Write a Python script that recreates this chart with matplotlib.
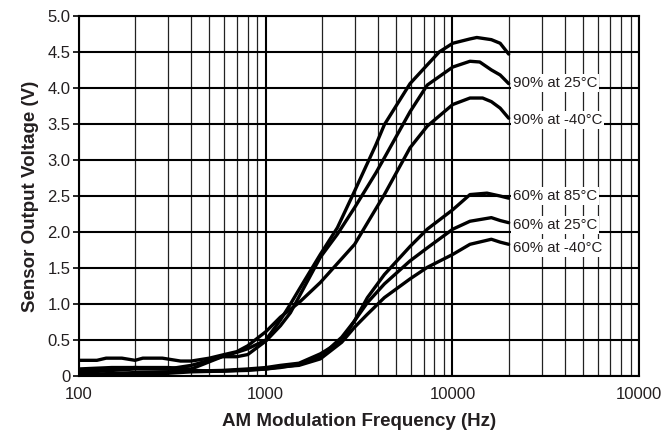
import numpy as np
import matplotlib.pyplot as plt
from matplotlib.ticker import FixedLocator, NullFormatter

plt.rcParams['font.family'] = ['Liberation Sans', 'DejaVu Sans']

# 90% at 85C (top curve, unlabeled in the source)
f_a = [100, 150, 200, 300, 400, 500, 600, 700, 800, 1000, 1200, 1357, 1508, 1962, 2421,
       2995, 3890, 4320, 5930, 7330, 8500, 10040, 12410, 13500, 16150, 18000, 20000]
v_a = [0.06, 0.10, 0.12, 0.10, 0.15, 0.22, 0.28, 0.33, 0.38, 0.50, 0.78, 1.00, 1.20, 1.69, 2.06,
       2.57, 3.21, 3.49, 4.06, 4.32, 4.50, 4.62, 4.68, 4.70, 4.67, 4.62, 4.47]

# 90% at 25C
f_b = [100, 150, 200, 300, 400, 500, 585, 700, 802, 1005, 1200, 1357, 1508, 1962, 2421,
       2995, 3890, 4320, 5930, 7330, 10040, 12410, 14000, 16150, 18000, 20000]
v_b = [0.10, 0.12, 0.12, 0.12, 0.10, 0.20, 0.27, 0.27, 0.30, 0.49, 0.70, 0.88, 1.10, 1.65, 1.97,
       2.34, 2.82, 3.03, 3.67, 4.04, 4.29, 4.37, 4.36, 4.25, 4.18, 4.06]

# 90% at -40C
f_c = [100, 125, 140, 170, 200, 220, 280, 350, 400, 500, 600, 700, 800, 1005, 1200, 1508,
       1962, 2995, 4320, 5930, 7330, 10040, 12410, 14500, 16150, 18000, 20000]
v_c = [0.22, 0.22, 0.25, 0.25, 0.22, 0.25, 0.25, 0.21, 0.21, 0.25, 0.30, 0.34, 0.42, 0.62, 0.82, 1.02,
       1.30, 1.83, 2.52, 3.17, 3.47, 3.77, 3.86, 3.86, 3.81, 3.72, 3.58]

# 60% at 85C
f_d = [100, 200, 300, 400, 585, 800, 1005, 1200, 1508, 1962, 2553, 2995, 3505, 4320, 5930,
       7330, 10040, 12410, 15310, 18000, 20000]
v_d = [0.02, 0.05, 0.06, 0.07, 0.08, 0.10, 0.12, 0.15, 0.18, 0.31, 0.49, 0.77, 1.09, 1.41, 1.80,
       2.04, 2.31, 2.52, 2.54, 2.50, 2.47]

# 60% at 25C
f_e = [100, 200, 300, 400, 585, 800, 1005, 1200, 1508, 1962, 2553, 2995, 3505, 4320, 5930,
       7330, 10040, 12410, 16150, 18000, 20000]
v_e = [0.05, 0.10, 0.10, 0.08, 0.07, 0.09, 0.10, 0.12, 0.16, 0.27, 0.54, 0.77, 1.02, 1.28, 1.60,
       1.78, 2.04, 2.15, 2.20, 2.16, 2.13]

# 60% at -40C
f_f = [100, 200, 300, 400, 585, 800, 1005, 1200, 1508, 1962, 2553, 2995, 3505, 4320, 5930,
       7330, 10040, 12410, 16150, 18000, 20000]
v_f = [0.00, 0.02, 0.04, 0.06, 0.07, 0.08, 0.10, 0.13, 0.15, 0.24, 0.47, 0.68, 0.86, 1.09, 1.35,
       1.51, 1.69, 1.83, 1.90, 1.86, 1.83]

labels = ['90% at 25°C', '90% at -40°C', '60% at 85°C', '60% at 25°C', '60% at -40°C']
label_y = [4.07, 3.55, 2.50, 2.10, 1.78]

x_ticks = [100, 1000, 10000, 100000]
x_ticklabels = ['100', '1000', '10000', '10000']
y_ticks = [0, 0.5, 1.0, 1.5, 2.0, 2.5, 3.0, 3.5, 4.0, 4.5, 5.0]
y_ticklabels = ['0', '0.5', '1.0', '1.5', '2.0', '2.5', '3.0', '3.5', '4.0', '4.5', '5.0']

txt = '#231f20'

fig = plt.figure(figsize=(6.68, 4.41), dpi=100)
ax = fig.add_axes([0.118, 0.147, 0.839, 0.817])
ax.set_xscale('log')
ax.set_xlim(100, 100000)
ax.set_ylim(0, 5)

# grid
minors = [m * d for d in (100, 1000, 10000) for m in range(2, 10)]
for x in minors:
    ax.axvline(x, color='#222222', lw=0.9, zorder=1)
for x in x_ticks:
    ax.axvline(x, color='black', lw=1.5, zorder=1)
for y in y_ticks:
    ax.axhline(y, color='black', lw=1.5, zorder=1)

for f, v in [(f_a, v_a), (f_b, v_b), (f_c, v_c), (f_d, v_d), (f_e, v_e), (f_f, v_f)]:
    ax.plot(f, v, color='black', lw=2.4, solid_capstyle='round', solid_joinstyle='round', zorder=3)

for lab, y in zip(labels, label_y):
    ax.text(21000, y, lab, fontsize=10.8, va='center', ha='left', color=txt, zorder=4,
            bbox=dict(facecolor='white', edgecolor='none', pad=1.5))

ax.xaxis.set_major_locator(FixedLocator(x_ticks))
ax.xaxis.set_minor_locator(FixedLocator(minors))
ax.xaxis.set_minor_formatter(NullFormatter())
ax.set_xticklabels(x_ticklabels)
ax.set_yticks(y_ticks)
ax.set_yticklabels(y_ticklabels)
ax.tick_params(axis='x', which='both', length=0, labelsize=12, pad=8, labelcolor=txt)
ax.tick_params(axis='y', length=4, width=1.2, direction='out', labelsize=12, pad=2, labelcolor=txt)
for s in ax.spines.values():
    s.set_linewidth(1.5)

ax.set_xlabel('AM Modulation Frequency (Hz)', fontsize=13.5, fontweight='bold', labelpad=8, color=txt)
ax.set_ylabel('Sensor Output Voltage (V)', fontsize=13.5, fontweight='bold', labelpad=6, color=txt)

fig.savefig('out.png', dpi=100)
